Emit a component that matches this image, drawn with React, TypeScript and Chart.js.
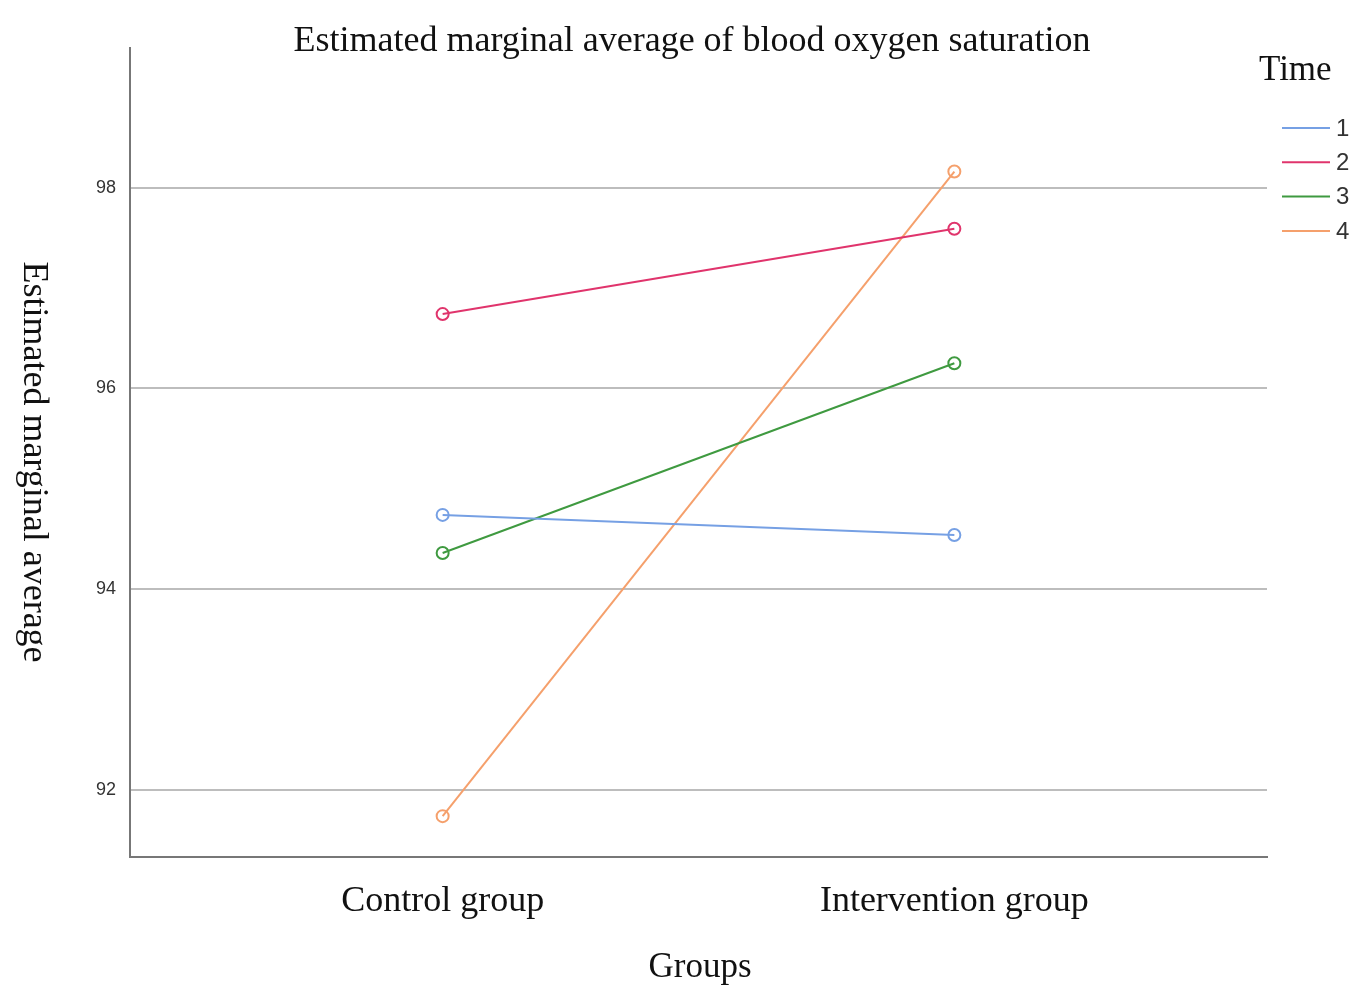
import React, { useEffect, useRef } from "react";
import { Chart, registerables } from "chart.js";

Chart.register(...registerables);

const categories = ["Control group", "Intervention group"];
const seriesLabels = ["1", "2", "3", "4"];
const time1 = [94.74, 94.54];
const time2 = [96.74, 97.59];
const time3 = [94.36, 96.25];
const time4 = [91.74, 98.16];
const yTicks = [92, 94, 96, 98];
const colors = ["#76a0e4", "#e0346c", "#3f9a40", "#f5a06c"];

const SERIF = "'Liberation Serif', 'Times New Roman', serif";
const SANS = "'Liberation Sans', Arial, sans-serif";

const textPlugin = {
  id: "customText",
  afterDraw(chart: any) {
    const ctx = chart.ctx;
    ctx.save();
    ctx.fillStyle = "#111";
    ctx.textBaseline = "middle";
    ctx.textAlign = "center";
    ctx.font = `36px ${SERIF}`;
    ctx.fillText("Estimated marginal average of blood oxygen saturation", 692, 42);
    ctx.save();
    ctx.translate(33, 462);
    ctx.rotate(Math.PI / 2);
    ctx.fillText("Estimated marginal average", 0, 0);
    ctx.restore();
    ctx.font = `35px ${SERIF}`;
    ctx.fillText("Groups", 700, 968);
    // legend
    ctx.textAlign = "left";
    ctx.fillText("Time", 1259, 71);
    ctx.font = `24px ${SANS}`;
    chart.data.datasets.forEach((ds: any, i: number) => {
      const y = 128 + i * 34.3;
      ctx.strokeStyle = ds.borderColor;
      ctx.lineWidth = 2;
      ctx.beginPath();
      ctx.moveTo(1282, y);
      ctx.lineTo(1330, y);
      ctx.stroke();
      ctx.fillStyle = "#333";
      ctx.fillText(ds.label, 1336, y + 1);
    });
    ctx.restore();
  },
};

export default function App() {
  const ref = useRef<HTMLCanvasElement>(null);
  useEffect(() => {
    document.body.style.margin = "0";
    const series = [time1, time2, time3, time4];
    const chart = new Chart(ref.current!, {
      type: "line",
      data: {
        datasets: series.map((vals, i) => ({
          label: seriesLabels[i],
          data: vals.map((v, j) => ({ x: j, y: v })),
          borderColor: colors[i],
          backgroundColor: "rgba(255,255,255,0)",
          borderWidth: 2,
          pointRadius: 6,
          pointBorderWidth: 2,
          pointBorderColor: colors[i],
          pointBackgroundColor: "rgba(255,255,255,0)",
        })),
      },
      options: {
        animation: false,
        responsive: false,
        devicePixelRatio: 1,
        layout: { padding: { top: 48, right: 88, left: 0, bottom: 0 } },
        plugins: { legend: { display: false }, tooltip: { enabled: false }, title: { display: false } },
        scales: {
          x: {
            type: "linear",
            min: -0.611,
            max: 1.611,
            afterFit: (s: any) => {
              s.height = 143;
            },
            afterBuildTicks: (s: any) => {
              s.ticks = categories.map((_, i) => ({ value: i }));
            },
            ticks: {
              callback: (v: any) => categories[v as number] ?? "",
              font: { family: SERIF, size: 36 },
              color: "#111",
              padding: 23,
              maxRotation: 0,
              autoSkip: false,
            },
            grid: { display: false, drawTicks: false },
            border: { display: true, color: "#777", width: 2 },
          },
          y: {
            type: "linear",
            min: 91.333,
            max: 99.39,
            afterFit: (s: any) => {
              s.width = 130;
            },
            afterBuildTicks: (s: any) => {
              s.ticks = yTicks.map((v) => ({ value: v }));
            },
            ticks: {
              font: { family: SANS, size: 18 },
              color: "#333",
              padding: 14,
            },
            grid: { color: "#bdbdbd", lineWidth: 2, drawTicks: false },
            border: { display: true, color: "#777", width: 2 },
          },
        },
      },
      plugins: [textPlugin],
    });
    return () => chart.destroy();
  }, []);
  return (
    <div style={{ width: 1355, height: 1000, overflow: "hidden", background: "#fff" }}>
      <canvas ref={ref} width={1355} height={1000} style={{ display: "block" }} />
    </div>
  );
}
